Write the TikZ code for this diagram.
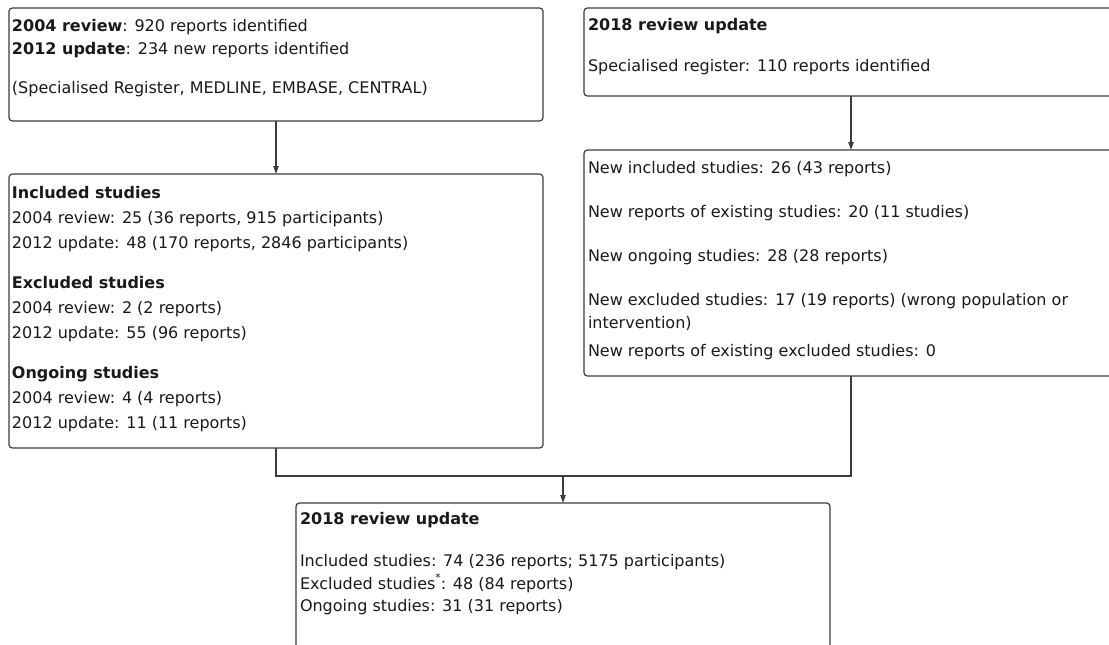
\documentclass[tikz,border=0pt]{standalone}
\usepackage{fontspec}
\setmainfont{DejaVu Sans}
\usetikzlibrary{fit,arrows.meta}
\definecolor{ln}{HTML}{3C3C3C}
\definecolor{tx}{HTML}{1A1A1A}
\begin{document}
\begin{tikzpicture}[x=0.75pt,y=-0.75pt,
  box/.style={draw=ln,line width=0.9pt,rounded corners=2.5pt,inner sep=0pt,outer sep=0pt},
  tl/.style={anchor=base west,inner sep=0pt,outer sep=0pt,text=tx,font=\fontsize{12}{14}\selectfont},
  conn/.style={draw=ln,line width=0.9pt},
  arr/.style={conn,-{Triangle[length=6pt,width=4pt]}}]
\useasboundingbox (0,0) rectangle (1109,644);
\clip (0,0) rectangle (1109,644);
\fill[white] (0,0) rectangle (1109,644);

% boxes
\node[box, fit={(9,8) (543,121)}] (A) {};
\node[box, fit={(584,8) (1118,96)}] (C) {};
\node[box, fit={(9,174) (543,448)}] (B) {};
\node[box, fit={(584,150) (1118,376)}] (D) {};
\node[box, fit={(296,503) (830,670)}] (E) {};

% box A text
\node[tl] (a1) at (12,31) {\textbf{2004 review}: 920 reports identified};
\node[tl] (a2) at (12,54) {\textbf{2012 update}: 234 new reports identified};
\node[tl] (a3) at (12,93) {(Specialised Register, MEDLINE, EMBASE, CENTRAL)};

% box C text
\node[tl] (c1) at (588,30) {\textbf{2018 review update}};
\node[tl] (c2) at (588,71) {Specialised register: 110 reports identified};

% box B text
\node[tl] (b1) at (12,198) {\textbf{Included studies}};
\node[tl] (b2) at (12,223) {2004 review: 25 (36 reports, 915 participants)};
\node[tl] (b3) at (12,248) {2012 update: 48 (170 reports, 2846 participants)};
\node[tl] (b4) at (12,288) {\textbf{Excluded studies}};
\node[tl] (b5) at (12,313) {2004 review: 2 (2 reports)};
\node[tl] (b6) at (12,338) {2012 update: 55 (96 reports)};
\node[tl] (b7) at (12,378) {\textbf{Ongoing studies}};
\node[tl] (b8) at (12,403) {2004 review: 4 (4 reports)};
\node[tl] (b9) at (12,428) {2012 update: 11 (11 reports)};

% box D text
\node[tl] (d1) at (588,173) {New included studies: 26 (43 reports)};
\node[tl] (d2) at (588,217) {New reports of existing studies: 20 (11 studies)};
\node[tl] (d3) at (588,261) {New ongoing studies: 28 (28 reports)};
\node[tl] (d4) at (588,305) {New excluded studies: 17 (19 reports) (wrong population or};
\node[tl] (d5) at (588,328) {intervention)};
\node[tl] (d6) at (588,356) {New reports of existing excluded studies: 0};

% box E text
\node[tl] (e1) at (300,524) {\textbf{2018 review update}};
\node[tl] (e2) at (300,566) {Included studies: 74 (236 reports; 5175 participants)};
\node[tl] (e3) at (300,589) {Excluded studies\raisebox{6pt}{\fontsize{8}{8}\selectfont *}: 48 (84 reports)};
\node[tl] (e4) at (300,611) {Ongoing studies: 31 (31 reports)};

% connectors
\coordinate (j) at (563,476);
\draw[arr] (A.south) -- (B.north);
\draw[arr] (C.south) -- (D.north);
\draw[conn] (B.south) |- (j) -| (D.south);
\draw[arr] (j) -- (E.north);
\end{tikzpicture}
\end{document}
